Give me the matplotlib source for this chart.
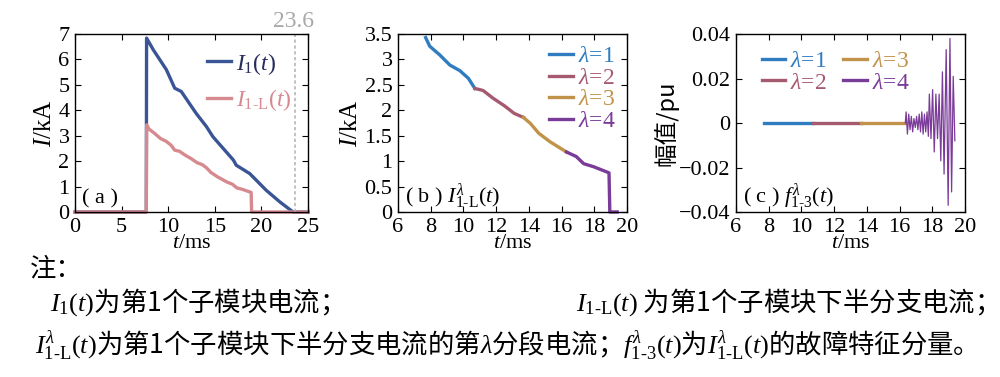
import matplotlib
matplotlib.use("Agg")
import matplotlib.pyplot as plt
from matplotlib.ticker import FuncFormatter
import numpy as np

plt.rcParams['font.family'] = ['Liberation Serif', 'Noto Sans CJK SC']
plt.rcParams['mathtext.fontset'] = 'custom'
plt.rcParams['mathtext.rm'] = 'Liberation Serif'
plt.rcParams['mathtext.it'] = 'Liberation Serif:italic'
plt.rcParams['font.size'] = 16

# (a) I1(t)
t_i1 = [0, 7.65, 7.68, 8.4, 9.8, 10.7, 11.4, 13.0, 14.1, 14.8, 17.0, 17.3, 18.75, 20.5, 22.0, 23.4, 25]
v_i1 = [0, 0, 6.84, 6.38, 5.6, 4.87, 4.74, 3.88, 3.36, 2.96, 2.04, 1.84, 1.51, 0.86, 0.39, 0.0, 0.0]

# I1-L(t), split into the four segments lambda = 1..4
seg_t = [[7.69, 7.94, 8.55, 9.17, 9.78, 10.3, 10.7],
         [10.7, 11.2, 11.8, 12.5, 13.1, 13.67],
         [13.67, 14.1, 14.6, 15.3, 16.1, 16.3],
         [16.3, 16.9, 17.35, 17.96, 18.9, 18.95, 19.4]]
seg_v = [[3.43, 3.26, 3.09, 2.89, 2.78, 2.63, 2.43],
         [2.43, 2.39, 2.24, 2.09, 1.94, 1.86],
         [1.86, 1.74, 1.55, 1.38, 1.22, 1.18],
         [1.18, 1.09, 0.95, 0.89, 0.77, 0.0, 0.0]]

# (c) fault feature f1-3(t)
f_flat_t = [[7.69, 10.7], [10.7, 13.67], [13.67, 16.35]]
f4_t = [16.35, 16.40, 16.48, 16.56, 16.64, 16.72, 16.80, 16.88, 16.96, 17.04, 17.12,
        17.20, 17.28, 17.36, 17.44, 17.52, 17.60, 17.68, 17.76, 17.82, 17.92, 18.02,
        18.12, 18.22, 18.32, 18.42, 18.52, 18.62, 18.72, 18.85, 18.97, 19.08, 19.18,
        19.28, 19.38]
f4_v = [0, 0.005, -0.005, 0.004, -0.003, 0.003, -0.004, 0.002, -0.002, 0.003, -0.003,
        0.004, -0.004, 0.005, -0.005, 0.004, -0.004, 0.005, -0.006, 0.013, -0.007, 0.015,
        -0.013, 0.013, -0.007, 0.013, -0.017, 0.023, -0.023, 0.033, -0.037, 0.038, -0.031,
        0.021, -0.008]

navy = '#3a5595'
pink = '#d68a8f'
lam_colors = ['#2f7dc0', '#a55a70', '#c0924a', '#7b3b98']
serif = ['Liberation Serif', 'Noto Sans CJK SC']
cjk = ['Noto Sans CJK SC', 'Liberation Serif']


def fmt(x, pos):
    return ('%g' % x).replace('-', '\u2212')


def style(ax):
    ax.tick_params(direction='in', top=True, right=True, length=4, width=0.8, pad=4)
    for s in ax.spines.values():
        s.set_linewidth(1.0)
    ax.yaxis.set_major_formatter(FuncFormatter(fmt))
    ax.xaxis.set_major_formatter(FuncFormatter(fmt))
    for lab in ax.get_xticklabels() + ax.get_yticklabels():
        lab.set_family(serif)


fig = plt.figure(figsize=(10, 3.77), dpi=100)
ax1 = fig.add_axes([0.075, 0.4377, 0.233, 0.472])
ax2 = fig.add_axes([0.398, 0.4377, 0.229, 0.472])
ax3 = fig.add_axes([0.736, 0.4377, 0.229, 0.472])

# ---- (a)
t_l = [0, 7.65] + sum(seg_t, []) + [25]
v_l = [0, 0] + sum(seg_v, []) + [0]
ax1.plot(t_i1, v_i1, color=navy, lw=2.4, clip_on=False, label=r'$I_1(t)$')
ax1.plot(t_l, v_l, color=pink, lw=2.4, clip_on=False, label=r'$I_{\mathrm{1\text{-}L}}(t)$')
ax1.axvline(23.6, color='#b8b8b8', ls=(0, (2, 1.5)), lw=1.2)
ax1.text(23.4, 7.1, '23.6', color='#a8a8a8', ha='center', va='bottom', fontsize=17, family=serif)
ax1.set_xlim(0, 25)
ax1.set_ylim(0, 7)
ax1.set_xticks(range(0, 26, 5))
ax1.set_yticks(range(0, 8))
ax1.set_xlabel(r'$t$/ms', labelpad=-2, family=serif)
ax1.set_ylabel(r'$I$/kA', labelpad=2, family=serif, fontsize=18)
ax1.text(0.03, 0.05, '( a )', transform=ax1.transAxes, fontsize=16, family=serif)
leg = ax1.legend(loc='upper right', frameon=False, handlelength=1.0, handletextpad=0.2,
                 labelspacing=0.45, borderaxespad=0.3, fontsize=17)
for txt, c in zip(leg.get_texts(), ['#262a5c', pink]):
    txt.set_color(c)
style(ax1)

# ---- (b)
for i in range(4):
    ax2.plot(seg_t[i], seg_v[i], color=lam_colors[i], lw=2.4, clip_on=False,
             label=r'$\lambda$=%d' % (i + 1))
ax2.set_xlim(6, 20)
ax2.set_ylim(0, 3.5)
ax2.set_xticks(range(6, 21, 2))
ax2.set_yticks(np.arange(0, 3.51, 0.5))
ax2.set_xlabel(r'$t$/ms', labelpad=-2, family=serif)
ax2.set_ylabel(r'$I$/kA', labelpad=2, family=serif, fontsize=18)
ax2.text(0.03, 0.05, r'( b ) $I^{\lambda}_{\mathrm{1\text{-}L}}(t)$', transform=ax2.transAxes,
         fontsize=16, family=serif)
leg = ax2.legend(loc='upper right', frameon=False, handlelength=1.0, handletextpad=0.2,
                 labelspacing=0.0, borderaxespad=0.1, fontsize=17)
for txt, c in zip(leg.get_texts(), lam_colors):
    txt.set_color(c)
style(ax2)

# ---- (c)
for i in range(3):
    ax3.plot(f_flat_t[i], [0, 0], color=lam_colors[i], lw=2.4, label=r'$\lambda$=%d' % (i + 1))
ax3.plot(f4_t, f4_v, color=lam_colors[3], lw=0.9)
ax3.plot([], [], color=lam_colors[3], lw=2.4, label=r'$\lambda$=4')
ax3.set_xlim(6, 20)
ax3.set_ylim(-0.04, 0.04)
ax3.set_xticks(range(6, 21, 2))
ax3.set_yticks([-0.04, -0.02, 0, 0.02, 0.04])
ax3.set_xlabel(r'$t$/ms', labelpad=-2, family=serif)
ax3.set_ylabel('幅值/pu', labelpad=0, family=cjk, fontsize=17)
ax3.text(0.03, 0.05, r'( c ) $f^{\lambda}_{\mathrm{1\text{-}3}}(t)$', transform=ax3.transAxes,
         fontsize=16, family=serif)
leg = ax3.legend(loc='upper left', ncol=2, frameon=False, handlelength=1.0, handletextpad=0.2,
                 labelspacing=0.0, columnspacing=0.7, borderaxespad=0.3,
                 bbox_to_anchor=(0.04, 1.0), fontsize=17)
for txt, c in zip(leg.get_texts(), lam_colors):
    txt.set_color(c)
style(ax3)

# ---- notes
fig.text(0.03, 0.287, '注：', fontsize=19, family=cjk, va='center')
fig.text(0.05, 0.2, r'$I_1(t)$为第1个子模块电流；', fontsize=19, family=cjk, va='center')
fig.text(0.985, 0.2, r'$I_{\mathrm{1\text{-}L}}(t)$ 为第1个子模块下半分支电流；', fontsize=19,
         family=cjk, va='center', ha='right')
fig.text(0.035, 0.085, r'$I^{\lambda}_{\mathrm{1\text{-}L}}(t)$为第1个子模块下半分支电流的第$\lambda$分段电流；'
         r'$f^{\lambda}_{\mathrm{1\text{-}3}}(t)$为$I^{\lambda}_{\mathrm{1\text{-}L}}(t)$的故障特征分量。',
         fontsize=19, family=cjk, va='center')

fig.savefig('out.png', dpi=100)
